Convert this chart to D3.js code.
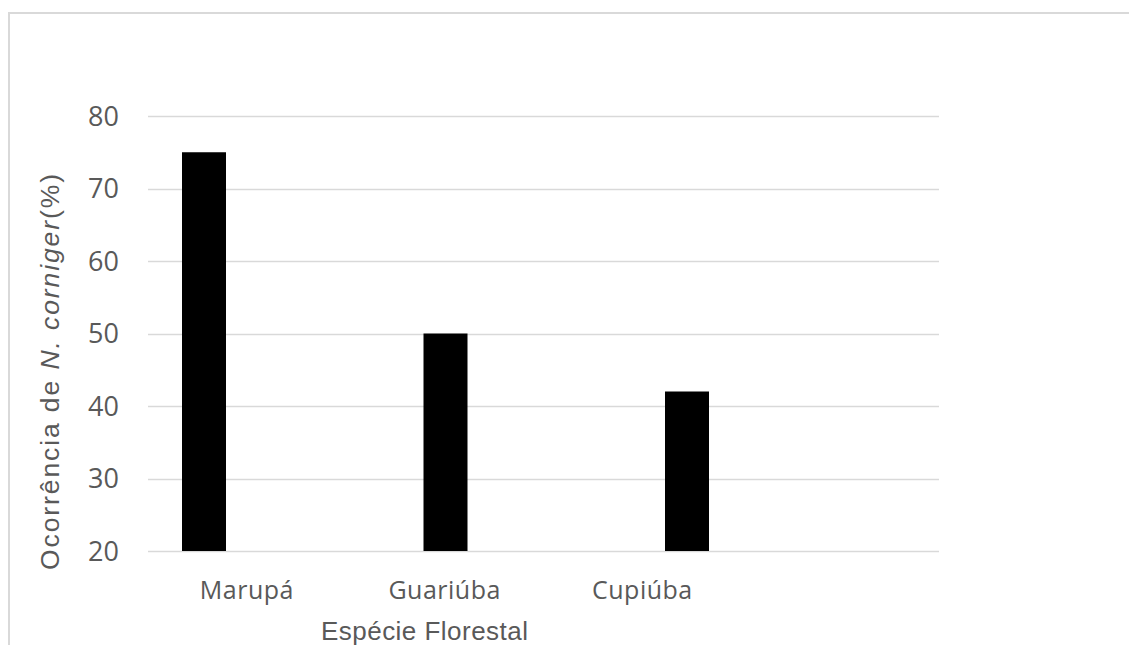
<!DOCTYPE html>
<html><head><meta charset="utf-8">
<script src="https://cdn.jsdelivr.net/npm/d3@7"></script>
<style>body{margin:0;background:#fff;} svg{display:block;}</style>
</head><body>
<svg id="c" width="1129" height="645"></svg>
<script>
const categories = ["Marupá", "Guariúba", "Cupiúba"];
const values = [75, 50, 42];
const yTicks = [20, 30, 40, 50, 60, 70, 80];
const xTitle = "Espécie Florestal";

(function () {
const svg = d3.select("#c");
const font = "'Open Sans', 'Segoe UI', sans-serif";
const titleFont = "'Liberation Sans', Arial, sans-serif";
const grey = "#595959";

// chart border
svg.append("path").attr("d", "M9,645 V13 H1129").attr("fill", "none")
  .attr("stroke", "#d9d9d9").attr("stroke-width", 2);

const pLeft = 148, pRight = 939, pTop = 116, pBottom = 551;
const y = d3.scaleLinear().domain([20, 80]).range([pBottom, pTop]);
const xBar = d3.scalePoint().domain(categories).range([204, 687]);
const xLab = d3.scaleBand().domain([...categories, ""]).range([pLeft, pRight]);

// gridlines
svg.append("g").selectAll("line").data(yTicks).join("line")
  .attr("x1", pLeft).attr("x2", pRight)
  .attr("y1", d => Math.round(y(d)) + 0.5).attr("y2", d => Math.round(y(d)) + 0.5)
  .attr("stroke", "#d9d9d9").attr("stroke-width", 1.5);

// y tick labels
svg.append("g").selectAll("text").data(yTicks).join("text")
  .attr("x", 119).attr("y", d => y(d)).attr("dy", "0.36em")
  .attr("text-anchor", "end").attr("font-family", font).attr("font-size", 27)
  .attr("fill", grey).text(d => d);

// bars
const bw = 44;
svg.append("g").selectAll("rect").data(values).join("rect")
  .attr("x", (d, i) => xBar(categories[i]) - bw / 2)
  .attr("width", bw)
  .attr("y", d => y(d))
  .attr("height", d => y(20) - y(d))
  .attr("fill", "#000");

// category labels
svg.append("g").selectAll("text").data(categories).join("text")
  .attr("x", d => xLab(d) + xLab.bandwidth() / 2).attr("y", 599)
  .attr("text-anchor", "middle").attr("font-family", font).attr("font-size", 25)
  .attr("letter-spacing", 0.5)
  .attr("fill", grey).text(d => d);

// x title
svg.append("text").attr("x", 321).attr("y", 640)
  .attr("font-family", titleFont).attr("font-size", 26).attr("fill", grey)
  .attr("textLength", 207).attr("lengthAdjust", "spacing").text(xTitle);

// y title
const yt = svg.append("text").attr("transform", "translate(59,570) rotate(-90)")
  .attr("font-family", titleFont).attr("font-size", 26.5)
  .attr("textLength", 396).attr("lengthAdjust", "spacing")
  .attr("fill", grey);
yt.append("tspan").text("Ocorrência de ");
yt.append("tspan").attr("font-style", "italic").text("N. corniger");
yt.append("tspan").text("(%)");
})();
</script>
</body></html>
